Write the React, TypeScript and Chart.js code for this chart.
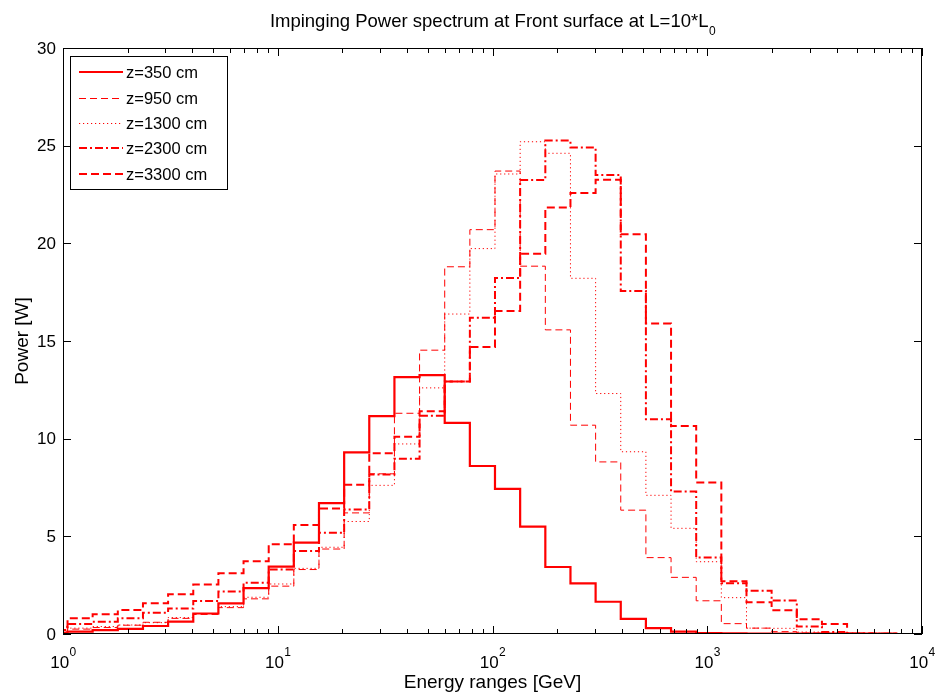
import React, { useEffect, useRef } from 'react';
import { Chart, registerables } from 'chart.js';

Chart.register(...registerables);

// ---- Data ----
const binEdges = [0.8, 1.05, 1.374, 1.8, 2.357, 3.086, 4.042, 5.292, 6.93, 9.076, 11.88, 15.56, 20.38, 26.68, 34.94, 45.75, 59.91, 78.45, 102.7, 134.5, 176.2, 230.7, 302.1, 395.6, 518.0, 678.3, 888.2, 1163, 1523, 1994, 2612, 3420, 4478, 5864, 7679];

const z350 = [0.05, 0.12, 0.2, 0.26, 0.41, 0.63, 1.05, 1.57, 2.35, 3.45, 4.68, 6.7, 9.3, 11.15, 13.15, 13.25, 10.81, 8.6, 7.43, 5.5, 3.43, 2.59, 1.65, 0.77, 0.3, 0.12, 0.05, 0.03, 0.02, 0.02, 0.02, 0.02, 0.02, 0.02];
const z950 = [0.1, 0.25, 0.33, 0.45, 0.6, 0.8, 1.0, 1.35, 1.8, 2.45, 3.3, 4.35, 6.2, 8.2, 11.3, 14.53, 18.8, 20.7, 23.7, 18.83, 15.57, 10.69, 8.81, 6.34, 3.91, 2.9, 1.7, 0.53, 0.3, 0.12, 0.05, 0.02, 0.01, 0];
const z1300 = [0.1, 0.3, 0.38, 0.46, 0.58, 0.84, 1.05, 1.4, 1.88, 2.56, 3.36, 4.44, 5.76, 7.61, 9.73, 12.6, 16.38, 19.73, 23.55, 25.2, 24.61, 18.21, 12.31, 9.33, 7.1, 5.41, 3.7, 1.86, 0.3, 0.29, 0.1, 0.05, 0.02, 0];
const z2300 = [0.2, 0.51, 0.63, 0.8, 1.09, 1.3, 1.69, 2.17, 2.63, 3.3, 4.25, 5.18, 6.37, 8.17, 8.97, 11.17, 12.93, 16.19, 18.23, 23.24, 25.26, 24.91, 23.5, 17.56, 10.99, 7.29, 3.91, 2.6, 2.22, 1.71, 0.38, 0.1, 0.03, 0.01];
const z3300 = [0.37, 0.8, 1.01, 1.23, 1.57, 2.03, 2.54, 3.11, 3.72, 4.59, 5.58, 6.42, 7.64, 9.25, 10.1, 11.4, 12.93, 14.69, 16.53, 19.47, 21.84, 22.58, 23.26, 20.47, 15.89, 10.65, 7.76, 2.7, 1.63, 1.21, 0.76, 0.51, 0.03, 0.01];

const seriesLabels = ['z=350 cm', 'z=950 cm', 'z=1300 cm', 'z=2300 cm', 'z=3300 cm'];
const seriesValues = [z350, z950, z1300, z2300, z3300];
const seriesWidths = [2.2, 1, 1, 2, 2];
const seriesDashes: number[][] = [[], [7, 4], [1.2, 2.8], [8, 3, 2, 3], [8, 4]];

const yTickValues = [0, 5, 10, 15, 20, 25, 30];
const xDecades = [1, 10, 100, 1000, 10000];
const xDecadeExponents = ['0', '1', '2', '3', '4'];

const titleMain = 'Impinging Power spectrum at Front surface at L=10*L';
const titleSub = '0';
const xTitle = 'Energy ranges [GeV]';
const yTitle = 'Power [W]';

const FONT = '"Liberation Sans", Arial, Helvetica, sans-serif';
const RED = 'rgb(255,0,0)';

function stepData(values: number[]) {
  return binEdges.map((e, i) => ({ x: e, y: values[Math.min(i, values.length - 1)] }));
}

const matlabPlugin = {
  id: 'matlabAxes',
  afterDraw(chart: any) {
    const { ctx, chartArea: a } = chart;
    const xs = chart.scales.x;
    const ys = chart.scales.y;
    const L = Math.round(a.left);
    const R = Math.round(a.right);
    const T = Math.round(a.top);
    const B = Math.round(a.bottom);
    ctx.save();
    ctx.strokeStyle = '#000';
    ctx.lineWidth = 1;
    ctx.setLineDash([]);
    ctx.beginPath();
    for (const v of yTickValues) {
      const p = Math.round(ys.getPixelForValue(v)) + 0.5;
      ctx.moveTo(L, p); ctx.lineTo(L + 8, p);
      ctx.moveTo(R, p); ctx.lineTo(R - 8, p);
    }
    for (let d = 0; d < xDecades.length; d++) {
      for (let m = 1; m <= 9; m++) {
        if (d === xDecades.length - 1 && m > 1) break;
        const v = xDecades[d] * m;
        const p = Math.round(xs.getPixelForValue(v)) + 0.5;
        const len = m === 1 ? 8 : 5;
        ctx.moveTo(p, B); ctx.lineTo(p, B - len);
        ctx.moveTo(p, T); ctx.lineTo(p, T + len);
      }
    }
    ctx.stroke();
    ctx.strokeRect(L + 0.5, T + 0.5, R - L - 1, B - T - 1);

    ctx.fillStyle = '#000';
    // y tick labels
    ctx.font = `17px ${FONT}`;
    ctx.textAlign = 'right';
    ctx.textBaseline = 'middle';
    for (const v of yTickValues) {
      ctx.fillText(String(v), L - 7, ys.getPixelForValue(v) + 1);
    }
    // x tick labels 10^n
    ctx.textBaseline = 'alphabetic';
    ctx.textAlign = 'left';
    for (let d = 0; d < xDecades.length; d++) {
      const p = xs.getPixelForValue(xDecades[d]);
      ctx.font = `17px ${FONT}`;
      const w1 = ctx.measureText('10').width;
      ctx.font = `12px ${FONT}`;
      const w2 = ctx.measureText(xDecadeExponents[d]).width;
      const x0 = p - (w1 + w2) / 2;
      ctx.font = `17px ${FONT}`;
      ctx.fillText('10', x0, 668);
      ctx.font = `12px ${FONT}`;
      ctx.fillText(xDecadeExponents[d], x0 + w1 + 0.5, 656);
    }
    // axis titles
    ctx.font = `19px ${FONT}`;
    ctx.textAlign = 'center';
    ctx.fillText(xTitle, (L + R) / 2, 688);
    ctx.save();
    ctx.translate(28, (T + B) / 2);
    ctx.rotate(-Math.PI / 2);
    ctx.fillText(yTitle, 0, 0);
    ctx.restore();
    // title with subscript
    ctx.font = `18.5px ${FONT}`;
    const tw1 = ctx.measureText(titleMain).width;
    ctx.font = `12px ${FONT}`;
    const tw2 = ctx.measureText(titleSub).width;
    const tx0 = (L + R) / 2 - (tw1 + tw2) / 2;
    ctx.textAlign = 'left';
    ctx.font = `18.5px ${FONT}`;
    ctx.fillText(titleMain, tx0, 27);
    ctx.font = `12px ${FONT}`;
    ctx.fillText(titleSub, tx0 + tw1 + 0.5, 35);

    // legend box
    const lx = 70, ly = 56, lw = 157, lh = 133;
    ctx.fillStyle = '#fff';
    ctx.fillRect(lx, ly, lw, lh);
    ctx.strokeStyle = '#000';
    ctx.lineWidth = 1;
    ctx.strokeRect(lx + 0.5, ly + 0.5, lw, lh);
    const rowY = [72, 98, 123, 148, 174];
    ctx.font = `16.5px ${FONT}`;
    ctx.textAlign = 'left';
    ctx.textBaseline = 'middle';
    for (let i = 0; i < seriesLabels.length; i++) {
      ctx.strokeStyle = RED;
      ctx.lineWidth = seriesWidths[i];
      ctx.setLineDash(seriesDashes[i]);
      ctx.beginPath();
      const yy = rowY[i] + (seriesWidths[i] === 1 ? 0.5 : 0);
      ctx.moveTo(79, yy);
      ctx.lineTo(123, yy);
      ctx.stroke();
      ctx.setLineDash([]);
      ctx.fillStyle = '#000';
      ctx.fillText(seriesLabels[i], 126, rowY[i] + 1);
    }
    ctx.restore();
  },
};

export default function App() {
  const ref = useRef<HTMLCanvasElement>(null);
  useEffect(() => {
    if (!ref.current) return;
    const datasets = seriesValues.map((vals, i) => ({
      label: seriesLabels[i],
      data: stepData(vals),
      borderColor: RED,
      backgroundColor: RED,
      borderWidth: seriesWidths[i],
      borderDash: seriesDashes[i],
      stepped: 'before' as const,
      pointRadius: 0,
      fill: false,
      clip: 0,
    }));
    const chart = new Chart(ref.current, {
      type: 'line',
      data: { datasets },
      options: {
        animation: false,
        responsive: false,
        maintainAspectRatio: false,
        layout: { padding: { left: 63, right: 13, top: 48, bottom: 59 } },
        plugins: {
          legend: { display: false },
          title: { display: false },
          tooltip: { enabled: false },
        },
        scales: {
          x: {
            type: 'logarithmic',
            min: 1,
            max: 10000,
            ticks: { display: false },
            grid: { display: false, drawTicks: false },
            border: { display: false },
            afterFit: (s: any) => { s.height = 0; },
          },
          y: {
            type: 'linear',
            min: 0,
            max: 30,
            ticks: { display: false },
            grid: { display: false, drawTicks: false },
            border: { display: false },
            afterFit: (s: any) => { s.width = 0; },
          },
        },
      },
      plugins: [matlabPlugin],
    } as any);
    return () => chart.destroy();
  }, []);
  return (
    <div style={{ position: 'absolute', left: 0, top: 0, width: 935, height: 693, background: '#fff' }}>
      <canvas ref={ref} width={935} height={693} style={{ display: 'block', width: 935, height: 693 }} />
    </div>
  );
}
